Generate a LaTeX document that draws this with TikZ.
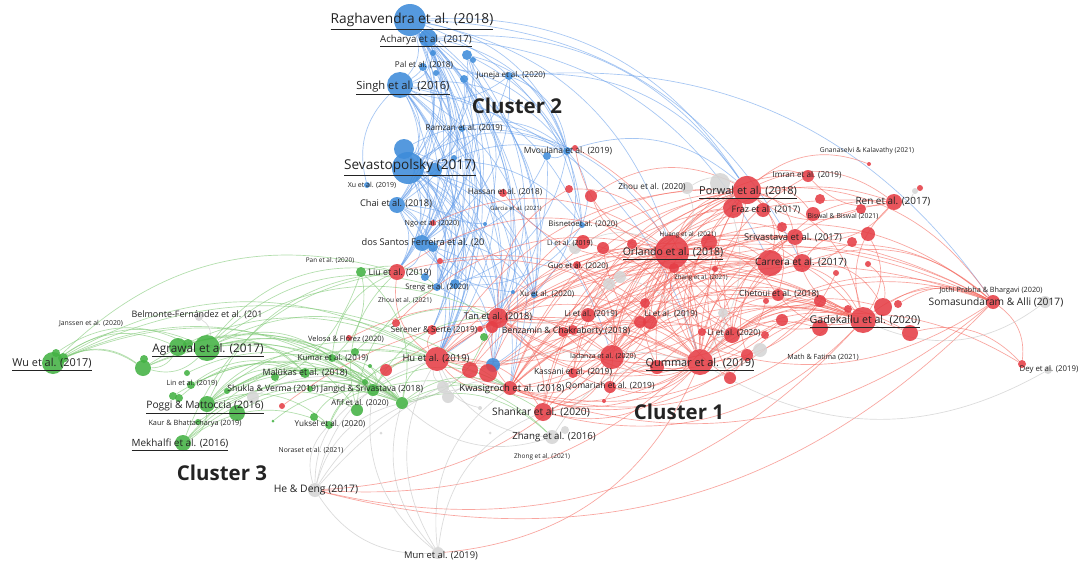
\documentclass[tikz,border=0pt]{standalone}
\usepackage{fontspec}
\setmainfont{Open Sans}
\pgfdeclarelayer{bg}
\pgfsetlayers{bg,main}
\definecolor{nred}{RGB}{229,62,70}
\definecolor{nblue}{RGB}{62,140,218}
\definecolor{ngreen}{RGB}{68,178,68}
\definecolor{ngrey}{RGB}{214,214,214}
\definecolor{ered}{RGB}{245,105,95}
\definecolor{eblue}{RGB}{105,160,235}
\definecolor{egreen}{RGB}{125,200,115}
\definecolor{egrey}{RGB}{195,195,195}
\definecolor{txt}{RGB}{35,35,35}
\tikzset{
  dot/.style={circle, inner sep=0pt, draw=none, fill opacity=0.88},
  lab/.style={text=txt, inner sep=0pt, anchor=base},
  eR/.style={draw=ered, draw opacity=0.6, line width=0.5pt},
  eB/.style={draw=eblue, draw opacity=0.6, line width=0.5pt},
  eG/.style={draw=egreen, draw opacity=0.6, line width=0.5pt},
  eN/.style={draw=egrey, draw opacity=0.6, line width=0.5pt},
  bd/.style={bend left=30}
}
\newcommand\nd[5]{\node[dot, fill=#5, minimum size={#4*1.5pt}] (#1) at (#2,#3) {};}
\newcommand\lb[5]{\pgfmathsetmacro\fsz{#4*1.05}\node[lab, font={\fontsize{\fsz pt}{\fsz pt}\selectfont}] (#1) at (#2,{#3+#4*0.48}) {#5};}
\begin{document}
\begin{tikzpicture}[x=0.75pt,y=-0.75pt]
\useasboundingbox (0,0) rectangle (1078,564);
% ---------- blue nodes
\nd{rag}{410}{20}{16}{nblue}
\nd{ach}{428}{38}{9}{nblue}
\nd{b1}{433}{53}{3}{nblue}
\nd{b2}{467}{55}{5}{nblue}
\nd{b3}{473}{60}{3}{nblue}
\nd{pal}{423}{67}{4}{nblue}
\nd{b4}{436}{73}{3}{nblue}
\nd{b5}{464}{79}{4}{nblue}
\nd{jun}{509}{76}{4}{nblue}
\nd{sin}{400}{85}{13}{nblue}
\nd{ram}{462}{129}{3}{nblue}
\nd{sev1}{404}{149}{10}{nblue}
\nd{sev2}{408}{168}{16}{nblue}
\nd{sev3}{435}{170}{7}{nblue}
\nd{sev4}{454}{158}{3}{nblue}
\nd{xub}{367}{185}{3}{nblue}
\nd{chai}{397}{205}{8}{nblue}
\nd{mvo}{567}{151}{4}{nblue}
\nd{mvo2}{547}{156}{4}{nblue}
\nd{garb}{485}{224}{2}{nblue}
\nd{dsf}{422}{243}{8}{nblue}
\nd{dsf2}{433}{247}{5}{nblue}
\nd{bis}{582}{225}{3}{nblue}
\nd{sreng}{437}{287}{4}{nblue}
\nd{sreng2}{455}{284}{5}{nblue}
\nd{b6}{425}{277}{4}{nblue}
\nd{xua}{513}{292}{2}{nblue}
\nd{xu20}{534}{295}{3}{nblue}
\nd{bhu}{493}{365}{7}{nblue}
% ---------- grey nodes
\nd{belm}{199}{317}{4}{ngrey}
\nd{porg}{720}{183}{10}{ngrey}
\nd{zhou20}{687}{188}{6}{ngrey}
\nd{zh16}{552}{437}{7}{ngrey}
\nd{zh16b}{565}{430}{4}{ngrey}
\nd{som2}{1045}{302}{6}{ngrey}
\nd{dey2}{1048}{370}{4}{ngrey}
\nd{li20g}{760}{350}{7}{ngrey}
\nd{gr1}{575}{248}{6}{ngrey}
\nd{gr2}{620}{277}{6}{ngrey}
\nd{gr3}{609}{284}{6}{ngrey}
\nd{gr4}{723}{313}{5}{ngrey}
\nd{gr5}{253}{397}{6}{ngrey}
\nd{gr6}{443}{387}{6}{ngrey}
\nd{gr7}{448}{397}{6}{ngrey}
\nd{hed}{315}{490}{7}{ngrey}
\nd{mun}{438}{553}{6}{ngrey}
\nd{rg}{915}{191}{3}{ngrey}
\nd{gr8}{381}{433}{1.5}{ngrey}
\nd{gr9}{490}{433}{1.5}{ngrey}
\nd{gr10}{480}{408}{2}{ngrey}
% ---------- red nodes
\nd{por}{747}{190}{14}{nred}
\nd{fraz1}{733}{208}{10}{nred}
\nd{fraz2}{763}{210}{7}{nred}
\nd{imran}{808}{176}{6}{nred}
\nd{r1}{820}{199}{5}{nred}
\nd{r2}{813}{214}{7}{nred}
\nd{gnan}{869}{164}{2}{nred}
\nd{ren}{894}{202}{8}{nred}
\nd{ren2}{861}{209}{5}{nred}
\nd{rr}{920}{188}{3}{nred}
\nd{sri}{795}{237}{8}{nred}
\nd{sri2}{782}{227}{5}{nred}
\nd{r3}{868}{234}{7}{nred}
\nd{r4}{852}{242}{5}{nred}
\nd{orl}{672}{252}{17}{nred}
\nd{orl2}{674}{268}{5}{nred}
\nd{hua}{709}{242}{8}{nred}
\nd{r5}{632}{244}{5}{nred}
\nd{li19a}{603}{248}{6}{nred}
\nd{li19a2}{583}{242}{7}{nred}
\nd{guo}{577}{265}{4}{nred}
\nd{r6}{715}{269}{3}{nred}
\nd{car}{802}{263}{9}{nred}
\nd{car2}{770}{263}{13}{nred}
\nd{r7}{868}{264}{3}{nred}
\nd{r8}{836}{273}{3}{nred}
\nd{che}{778}{295}{6}{nred}
\nd{che2}{766}{301}{3}{nred}
\nd{r9}{820}{301}{6}{nred}
\nd{r10}{848}{309}{4}{nred}
\nd{r11}{782}{320}{6}{nred}
\nd{r12}{820}{328}{8}{nred}
\nd{gad}{863}{320}{13}{nred}
\nd{gad2}{883}{307}{9}{nred}
\nd{gad3}{898}{304}{4}{nred}
\nd{gad4}{910}{333}{8}{nred}
\nd{som}{993}{302}{7}{nred}
\nd{dey}{1022}{364}{4}{nred}
\nd{li19b}{650}{322}{7}{nred}
\nd{li19b2}{640}{322}{6}{nred}
\nd{li19b3}{645}{303}{5}{nred}
\nd{li20}{732}{335}{8}{nred}
\nd{r13}{765}{335}{4}{nred}
\nd{r14}{747}{355}{6}{nred}
\nd{r15}{702}{332}{4}{nred}
\nd{qum}{700}{362}{13}{nred}
\nd{qum2}{730}{378}{6}{nred}
\nd{qum3}{657}{367}{7}{nred}
\nd{iad}{612}{357}{12}{nred}
\nd{qom}{610}{387}{6}{nred}
\nd{qom2}{604}{401}{2}{nred}
\nd{kass}{573}{373}{5}{nred}
\nd{kwas}{510}{388}{7}{nred}
\nd{shank}{543}{412}{9}{nred}
\nd{tan}{498}{318}{10}{nred}
\nd{tan2}{492}{327}{6}{nred}
\nd{r16}{480}{329}{3}{nred}
\nd{benz}{563}{332}{5}{nred}
\nd{benz2}{573}{330}{5}{nred}
\nd{li19c}{588}{315}{7}{nred}
\nd{ser}{432}{330}{5}{nred}
\nd{ser2}{396}{323}{4}{nred}
\nd{vel}{349}{338}{3}{nred}
\nd{hu}{437}{359}{12}{nred}
\nd{hu2}{470}{370}{8}{nred}
\nd{hu3}{488}{373}{9}{nred}
\nd{r17}{386}{370}{6}{nred}
\nd{liu}{397}{272}{8}{nred}
\nd{r18}{440}{261}{3}{nred}
\nd{hass}{503}{193}{4}{nred}
\nd{ngo}{433}{223}{3}{nred}
\nd{mvo3}{575}{148}{3}{nred}
\nd{r19}{569}{189}{4}{nred}
\nd{r20}{591}{196}{6}{nred}
\nd{r21}{282}{406}{3}{nred}
% ---------- green nodes
\nd{wu}{53}{363}{11}{ngreen}
\nd{wu2}{56}{353}{4}{ngreen}
\nd{wu3}{63}{358}{5}{ngreen}
\nd{agr}{207}{348}{13}{ngreen}
\nd{agr2}{178}{347}{9}{ngreen}
\nd{agr3}{188}{344}{5}{ngreen}
\nd{g143}{143}{368}{8}{ngreen}
\nd{g144}{144}{359}{4}{ngreen}
\nd{lin}{191}{385}{4}{ngreen}
\nd{lin2}{187}{373}{3}{ngreen}
\nd{shuk}{227}{391}{3}{ngreen}
\nd{mal}{305}{373}{5}{ngreen}
\nd{mal2}{275}{377}{4}{ngreen}
\nd{kum}{332}{358}{4}{ngreen}
\nd{kum2}{355}{352}{4}{ngreen}
\nd{g370}{370}{366}{2}{ngreen}
\nd{jang}{373}{390}{6}{ngreen}
\nd{jang2}{310}{389}{3}{ngreen}
\nd{afif}{402}{403}{6}{ngreen}
\nd{afif2}{357}{410}{6}{ngreen}
\nd{yuk}{329}{425}{4}{ngreen}
\nd{yuk2}{314}{417}{4}{ngreen}
\nd{pog}{207}{404}{8}{ngreen}
\nd{pog2}{237}{413}{8}{ngreen}
\nd{pog3}{173}{396}{4}{ngreen}
\nd{pog4}{179}{398}{4}{ngreen}
\nd{kaur}{198}{422}{3}{ngreen}
\nd{mek}{183}{443}{8}{ngreen}
\nd{g273}{273}{421}{1.5}{ngreen}
\nd{gliu}{361}{272}{5}{ngreen}
\nd{gtan}{484}{337}{4}{ngreen}
\nd{g365}{365}{382}{3}{ngreen}
% ---------- connectors
\begin{pgfonlayer}{bg}
\fill[white] (0,0) rectangle (1078,564);
\foreach \a/\b in {rag/sin, rag/sev2, rag/chai, rag/dsf, rag/sreng, rag/liu, rag/tan, rag/hu, rag/xu20, rag/mvo, rag/kwas, rag/por, rag/orl, rag/ser, rag/b6, rag/car, rag/bis,
 ach/sin, ach/sev2, ach/chai, ach/dsf, ach/sreng2, ach/liu, ach/tan, ach/hu, ach/mvo, ach/bhu, ach/car2, ach/por, ach/xu20,
 sin/sev2, sin/chai, sin/dsf, sin/sreng, sin/liu, sin/tan, sin/hu, sin/xu20, sin/mvo, sin/bhu, sin/kwas, sin/qum, sin/bis, sin/ser,
 sev2/chai, sev2/dsf, sev2/sreng, sev2/sreng2, sev2/liu, sev2/tan, sev2/hu, sev2/xu20, sev2/mvo, sev2/bhu, sev2/ser, sev2/iad, sev2/bis, sev2/kwas,
 sev1/dsf, sev1/sreng, sev1/hu, sev1/tan, sev1/mvo, sev1/liu, sev1/xu20,
 chai/dsf, chai/sreng, chai/hu, chai/liu, chai/tan, chai/xu20, chai/mvo,
 pal/sev2, pal/dsf, pal/sreng, pal/hu, pal/mvo, pal/chai,
 b2/sev2, b2/sreng2, b2/tan, b2/mvo, b2/bis, b2/dsf,
 b5/chai, b5/dsf, b5/hu, b5/xu20, b5/sreng,
 jun/sin, jun/rag, jun/mvo, jun/por, jun/dsf, jun/som, jun/sev2,
 ram/sev2, ram/sreng, ram/mvo, ram/orl, ram/dsf,
 mvo/bis, mvo/mvo2, mvo/xu20, mvo/sreng2, mvo/por, mvo2/dsf, mvo2/hu,
 dsf/sreng, dsf/liu, dsf/hu, dsf/xu20, dsf/bhu, dsf2/tan,
 sreng/bhu, sreng2/xu20, xu20/bhu, bis/sreng2, garb/sev2, xub/sin, b4/sev3, sev3/sreng2, sev3/hu, b1/sin, b3/sev2, sev4/dsf, xua/chai}
  \draw[eB] (\a) to[bd] (\b);
\foreach \a/\b in {qum/orl, qum/por, qum/fraz1, qum/car2, qum/sri, qum/gad, qum/gad2, qum/som, qum/che, qum/li20, qum/iad, qum/kass, qum/kwas, qum/qom, qum/shank, qum/tan, qum/hu, qum/benz, qum/guo, qum/li19a, qum/hua, qum/imran, qum/ren, qum/li19c, qum/dey, qum/r12, qum/gad4,
 orl/por, orl/fraz1, orl/car2, orl/car, orl/sri, orl/gad, orl/som, orl/che, orl/li20, orl/iad, orl/kwas, orl/tan, orl/hu, orl/li19a, orl/guo, orl/imran, orl/ren, orl/shank, orl/li19c, orl/hass, orl/r20, orl/mvo3,
 iad/por, iad/car2, iad/gad, iad/li20, iad/kwas, iad/tan, iad/hu, iad/shank, iad/sri, iad/li19b,
 kwas/por, kwas/car2, kwas/gad, kwas/tan, kwas/hu, kwas/li19b, kwas/som, kwas/sri, kwas/fraz1, kwas/li20,
 li19c/por, li19c/car2, li19c/gad, li19c/tan, li19c/hu, li19c/li20,
 li20/por, li20/gad, li20/car, li20/sri, li20/som, li20/gad4,
 tan/por, tan/car2, tan/gad, tan/hu, tan/shank, tan/li19b, tan/r19,
 hu/por, hu/car2, hu/gad, hu/li19b, hu/shank, hu/liu, hu/ser,
 por/fraz1, por/car2, por/sri, por/gad, por/imran, por/ren, por/som, por/che, por/li19b, por/r2, por/gnan,
 car2/gad, car2/som, car2/sri, car2/ren, car/gad2, car/som, car/r3,
 gad/som, gad2/som, gad/ren, gad/sri, gad/che, gad4/dey, som/dey, som/li19b, gad/shank, som/kwas, gad/hed, som/hed, qum/mun, orl/hed, car2/hed, gad3/som,
 ren/imran, ren/sri, ren2/por, r3/gad, r4/orl, r7/gad2, r8/qum, r9/orl, r10/kwas, r11/iad, r12/orl, che2/qum, hua/qum, r5/qum, r6/iad, li19a2/qum, guo/iad, orl2/hu, r15/tan, r14/kwas, qum2/orl, qum3/tan, benz/orl, benz2/qum, kass/orl, qom/por, qom2/qum, tan2/orl, r16/iad, ser2/orl, vel/iad, r17/qum, liu/orl, liu/qum, ngo/orl, r18/qum, hu2/orl, hu3/qum, r21/qum, r20/por, r19/orl, mvo3/qum,
 iad/orl, shank/orl, kass/car2, qom/gad, li19b2/sri, li19b3/car2, r13/orl, r9/kwas, r11/tan,
 li19b/por, li19b/car2, li19b/gad, li19b/sri, li19b/orl, qum3/orl, qum3/por, qum3/gad, r14/orl, r14/car2, qum2/por, qum2/gad, iad/fraz1, iad/che, kass/gad, kass/por, shank/gad, shank/por, shank/car2, hu3/por, hu3/gad, hu2/car2, tan2/gad, li19c/som, kwas/ren, tan/som, hu/som, qom/car2}
  \draw[eR] (\a) to[bd] (\b);
\foreach \a/\b in {wu/agr, wu/agr2, wu/g143, wu/afif, wu/jang, wu/hu, wu/kwas, wu/liu, wu2/agr3, wu3/g143,
 agr/afif, agr/jang, agr/mal, agr/kum, agr/hu, agr/tan, agr/sreng, agr/g143, agr/liu, agr/afif2,
 agr2/afif, agr2/mal, agr2/g143, agr3/jang,
 g143/afif, g143/jang, g143/hu,
 pog/afif, pog/jang, pog/mal, pog/kum, pog/liu, pog/hu, pog/yuk, pog/kwas, pog/mek, pog2/afif2,
 mek/afif, mek/jang, mek/yuk, mek/hu, mek/liu,
 lin/afif, lin/mal, shuk/jang, shuk/afif, mal/jang, mal/afif, kum/jang, kum/afif, kum/liu, jang/afif, jang/hu, jang/kwas, jang/tan, jang/zh16, afif/kwas, afif/hu, afif/shank, afif/zh16, afif2/liu, afif2/sreng, yuk/jang, yuk/hu, gliu/kum, gliu/sreng, gliu/pog, gliu/afif, kaur/afif, g365/hu, g370/jang, kum2/tan, mal2/afif, yuk2/jang, jang2/afif, gtan/afif, pog3/jang, pog4/mal, lin2/jang, g273/afif}
  \draw[eG] (\a) to[bd] (\b);
\foreach \a/\b in {hed/afif, hed/jang, hed/kwas, hed/hu, hed/qum, hed/yuk, mun/hu, mun/kwas, mun/jang, mun/shank, mun/hed, mun/afif, zh16/qum, zh16/hu, zh16/afif, zhou20/orl, zhou20/por, porg/qum, belm/agr, gr1/orl, gr2/qum, gr3/tan, gr4/qum, li20g/qum, gr5/afif, gr6/hu, gr7/kwas, som2/gad, dey2/qum, rg/ren, gr10/hu}
  \draw[eN] (\a) to[bd] (\b);
\end{pgfonlayer}
% ---------- labels
\lb{Lrag}{412}{19}{9.8}{\underline{Raghavendra et al. (2018)}}
\lb{Lach}{426}{39}{6.9}{\underline{Acharya et al. (2017)}}
\lb{Lpal}{424}{65}{5.8}{Pal et al. (2018)}
\lb{Ljun}{511}{75}{5.7}{Juneja et al. (2020)}
\lb{Lsin}{403}{86}{8.0}{\underline{Singh et al. (2016)}}
\lb{Lcl2}{517}{106}{14.6}{\bfseries Cluster 2}
\lb{Lram}{464}{128}{5.8}{Ramzan et al. (2019)}
\lb{Lsev}{410}{165}{9.7}{\underline{Sevastopolsky (2017)}}
\lb{Lmvo}{568}{151}{6.1}{Mvoulana et al. (2019)}
\lb{Lxub}{372}{185}{5.0}{Xu et al. (2019)}
\lb{Lchai}{396}{203}{6.6}{Chai et al. (2018)}
\lb{Lhass}{505}{192}{5.8}{Hassan et al. (2018)}
\lb{Lgar}{516}{208}{4.2}{Garcia et al. (2021)}
\lb{Lngo}{432}{223}{5.1}{Ngo et al. (2020)}
\lb{Lbis}{583}{224}{5.5}{Bisnetoet al. (2020)}
\lb{Ldsf}{423}{242}{6.6}{dos Santos Ferreira et al. (20}
\lb{Lli19a}{570}{243}{5.0}{Li et al. (2019)}
\lb{Lguo}{578}{266}{5.6}{Guo et al. (2020)}
\lb{Lpan}{330}{260}{4.6}{Pan et al. (2020)}
\lb{Lliu}{400}{272}{6.3}{Liu et al. (2019)}
\lb{Lsreng}{437}{287}{5.4}{Sreng et al. (2020)}
\lb{Lxu20}{547}{294}{5.6}{Xu et al. (2020)}
\lb{Lzhou21}{405}{300}{4.7}{Zhou et al. (2021)}
\lb{Ltan}{498}{316}{6.6}{Tan et al. (2018)}
\lb{Lli19c}{591}{314}{5.8}{Li et al. (2019)}
\lb{Lser}{434}{330}{5.9}{Serener \& Serte (2019)}
\lb{Lbenz}{566}{331}{6.2}{Benzamin \& Chakraborty (2018)}
\lb{Lvel}{346}{339}{5.3}{Velosa \& Flórez (2020)}
\lb{Lhu}{436}{358}{6.75}{Hu et al. (2019)}
\lb{Liad}{603}{356}{5.0}{Iadanza et al. (2020)}
\lb{Lkass}{573}{372}{6.0}{Kassani et al. (2019)}
\lb{Lkwas}{512}{388}{6.8}{Kwasigroch et al. (2018)}
\lb{Lqom}{610}{386}{6.1}{Qomariah et al. (2019)}
\lb{Lshank}{541}{412}{7.3}{Shankar et al. (2020)}
\lb{Lzh16}{554}{436}{6.9}{Zhang et al. (2016)}
\lb{Lzhong}{542}{456}{4.6}{Zhong et al. (2021)}
\lb{Lmun}{441}{555}{6.7}{Mun et al. (2019)}
\lb{Lhed}{316}{489}{7.4}{He \& Deng (2017)}
\lb{Lcl1}{679}{412}{14.6}{\bfseries Cluster 1}
\lb{Lzhou20}{652}{187}{5.9}{Zhou et al. (2020)}
\lb{Lpor}{748}{191}{7.8}{\underline{Porwal et al. (2018)}}
\lb{Lfraz}{766}{209}{6.4}{Fraz et al. (2017)}
\lb{Limran}{807}{175}{5.8}{Imran et al. (2019)}
\lb{Lgnan}{867}{150}{4.8}{Gnanaselvi \& Kalavathy (2021)}
\lb{Lren}{893}{201}{7.1}{Ren et al. (2017)}
\lb{Lbisw}{843}{216}{4.9}{Biswal \& Biswal (2021)}
\lb{Lsri}{793}{237}{6.7}{Srivastava et al. (2017)}
\lb{Lhua}{688}{234}{4.6}{Huang et al. (2021)}
\lb{Lorl}{673}{252}{7.5}{\underline{Orlando et al. (2018)}}
\lb{Lcar}{801}{262}{7.1}{Carrera et al. (2017)}
\lb{Lzh21}{701}{277}{4.4}{Zhang et al. (2021)}
\lb{Lche}{779}{294}{6.1}{Chetoui et al. (2018)}
\lb{Lgad}{865}{320}{7.6}{\underline{Gadekallu et al. (2020)}}
\lb{Ljothi}{991}{290}{5.2}{Jothi Prabha \& Bhargavi (2020)}
\lb{Lsom}{996}{302}{7.3}{Somasundaram \& Alli (2017)}
\lb{Lli19b}{671}{314}{5.8}{Li et al. (2019)}
\lb{Lli20}{734}{333}{5.8}{Li et al. (2020)}
\lb{Lmath}{823}{357}{5.1}{Math \& Fatima (2021)}
\lb{Lqum}{700}{363}{7.8}{\underline{Qummar et al. (2019)}}
\lb{Ldey}{1049}{369}{5.6}{Dey et al. (2019)}
\lb{Ljan}{91}{323}{4.9}{Janssen et al. (2020)}
\lb{Lbelm}{197}{314}{6.4}{Belmonte-Fernández et al. (201}
\lb{Lagr}{208}{348}{8.4}{\underline{Agrawal et al. (2017)}}
\lb{Lwu}{52}{363}{7.8}{\underline{Wu et al. (2017)}}
\lb{Llin}{192}{383}{5.1}{Lin et al. (2019)}
\lb{Lshuk}{273}{389}{6.2}{Shukla \& Verma (2019)}
\lb{Ljang}{372}{389}{6.1}{Jangid \& Srivastava (2018)}
\lb{Lmal}{305}{372}{6.3}{Malūkas et al. (2018)}
\lb{Lkum}{333}{358}{5.7}{Kumar et al. (2019)}
\lb{Lpog}{205}{405}{7.3}{\underline{Poggi \& Mattoccia (2016)}}
\lb{Lkaur}{195}{423}{5.2}{Kaur \& Bhattacharya (2019)}
\lb{Lafif}{360}{403}{5.6}{Afif et al. (2020)}
\lb{Lyuk}{330}{424}{5.8}{Yuksel et al. (2020)}
\lb{Lmek}{180}{443}{7.1}{\underline{Mekhalfi et al. (2016)}}
\lb{Lnor}{311}{450}{4.9}{Noraset et al. (2021)}
\lb{Lcl3}{222}{473}{14.6}{\bfseries Cluster 3}
\end{tikzpicture}
\end{document}
